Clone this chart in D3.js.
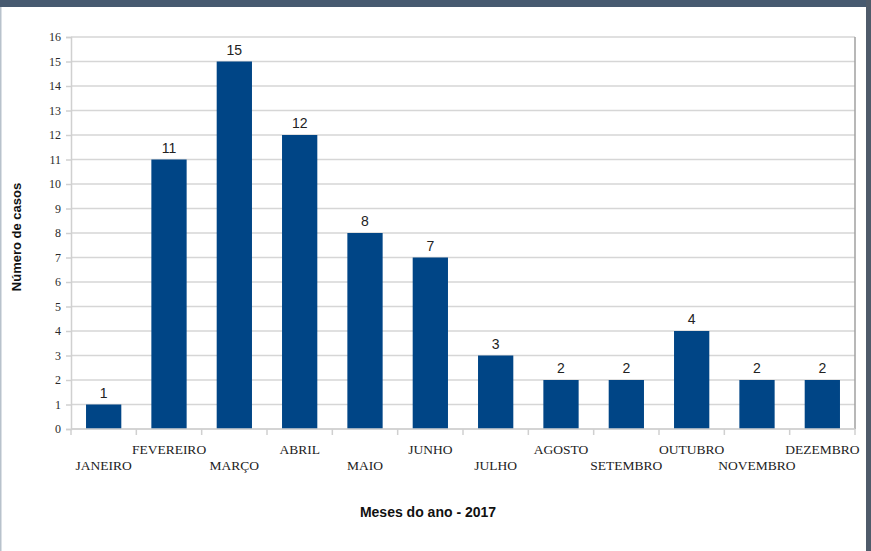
<!DOCTYPE html>
<html>
<head>
<meta charset="utf-8">
<script src="https://cdn.jsdelivr.net/npm/d3@7"></script>
<style>
  body { margin: 0; background: #fff; }
  svg { display: block; }
</style>
</head>
<body>
<div id="wrapper"></div>
<script>
const months = ["JANEIRO", "FEVEREIRO", "MARÇO", "ABRIL", "MAIO", "JUNHO",
  "JULHO", "AGOSTO", "SETEMBRO", "OUTUBRO", "NOVEMBRO", "DEZEMBRO"];
const cases = [1, 11, 15, 12, 8, 7, 3, 2, 2, 4, 2, 2];
const yTicks = d3.range(0, 17);

function drawBarChart() {
  const dataset = months.map((m, i) => ({ month: m, value: cases[i] }));
  const xAccessor = d => d.month;
  const yAccessor = d => d.value;

  let dimensions = {
    width: 871,
    height: 551,
    margin: { top: 37, right: 16, bottom: 122, left: 71 },
  };
  dimensions.boundedWidth = dimensions.width - dimensions.margin.left - dimensions.margin.right;
  dimensions.boundedHeight = dimensions.height - dimensions.margin.top - dimensions.margin.bottom;

  const wrapper = d3.select("#wrapper")
    .append("svg")
    .attr("width", dimensions.width)
    .attr("height", dimensions.height);

  // frame around the slide
  wrapper.append("rect")
    .attr("x", 0).attr("y", 0)
    .attr("width", dimensions.width).attr("height", 7)
    .attr("fill", "#475a70");
  wrapper.append("rect")
    .attr("x", 866).attr("y", 0)
    .attr("width", 5).attr("height", dimensions.height)
    .attr("fill", "#4f5b6a");
  wrapper.append("rect")
    .attr("x", 0).attr("y", 7)
    .attr("width", 1.5).attr("height", dimensions.height)
    .attr("fill", "#b8c2cc");

  const bounds = wrapper.append("g")
    .attr("transform", `translate(${dimensions.margin.left},${dimensions.margin.top})`);

  const xScale = d3.scaleBand()
    .domain(months)
    .range([0, dimensions.boundedWidth])
    .paddingInner(0.46)
    .paddingOuter(0.23);

  const yScale = d3.scaleLinear()
    .domain([0, 16])
    .range([dimensions.boundedHeight, 0]);

  // gridlines
  bounds.append("g")
    .selectAll("line")
    .data(yTicks)
    .join("line")
    .attr("x1", 0)
    .attr("x2", dimensions.boundedWidth)
    .attr("y1", d => yScale(d))
    .attr("y2", d => yScale(d))
    .attr("stroke", "#d6d6d6")
    .attr("stroke-width", 1.5);

  // right border of plot
  bounds.append("line")
    .attr("x1", dimensions.boundedWidth).attr("x2", dimensions.boundedWidth)
    .attr("y1", 0).attr("y2", dimensions.boundedHeight)
    .attr("stroke", "#a0a0a0")
    .attr("stroke-width", 1.5);

  // bars
  bounds.append("g")
    .selectAll("rect")
    .data(dataset)
    .join("rect")
    .attr("x", d => xScale(xAccessor(d)))
    .attr("y", d => yScale(yAccessor(d)))
    .attr("width", xScale.bandwidth())
    .attr("height", d => dimensions.boundedHeight - yScale(yAccessor(d)))
    .attr("fill", "#004586");

  // value labels
  bounds.append("g")
    .selectAll("text")
    .data(dataset)
    .join("text")
    .attr("x", d => xScale(xAccessor(d)) + xScale.bandwidth() / 2)
    .attr("y", d => yScale(yAccessor(d)) - 7)
    .attr("text-anchor", "middle")
    .style("font-family", "'Liberation Sans', Arial, sans-serif")
    .style("font-size", "14px")
    .attr("fill", "#222")
    .text(yAccessor);

  // y axis
  const yAxisGenerator = d3.axisLeft(yScale)
    .tickValues(yTicks)
    .tickSize(5)
    .tickPadding(5);
  const yAxis = bounds.append("g").call(yAxisGenerator);
  yAxis.select(".domain").attr("stroke", "#d0d0d0").attr("stroke-width", 1.5);
  yAxis.selectAll(".tick line").attr("stroke", "#d0d0d0").attr("stroke-width", 1.5);
  yAxis.selectAll(".tick text")
    .style("font-family", "'Liberation Serif', 'Times New Roman', serif")
    .style("font-size", "12px")
    .attr("fill", "#2a2a2a");

  // x axis: boundary ticks between categories
  const step = xScale.step();
  const boundaries = d3.range(0, months.length + 1).map(i => i * step);
  const xAxis = bounds.append("g")
    .attr("transform", `translate(0,${dimensions.boundedHeight})`);
  xAxis.append("line")
    .attr("x1", 0).attr("x2", dimensions.boundedWidth)
    .attr("y1", 0).attr("y2", 0)
    .attr("stroke", "#d0d0d0")
    .attr("stroke-width", 1.5);
  xAxis.selectAll(".bt")
    .data(boundaries)
    .join("line")
    .attr("class", "bt")
    .attr("x1", d => d).attr("x2", d => d)
    .attr("y1", 0).attr("y2", 6)
    .attr("stroke", "#d0d0d0")
    .attr("stroke-width", 1.5);
  xAxis.selectAll(".lbl")
    .data(months)
    .join("text")
    .attr("class", "lbl")
    .attr("x", d => xScale(d) + xScale.bandwidth() / 2)
    .attr("y", (d, i) => i % 2 === 0 ? 41 : 25)
    .attr("text-anchor", "middle")
    .style("font-family", "'Liberation Serif', 'Times New Roman', serif")
    .style("font-size", "13.5px")
    .attr("fill", "#222")
    .text(d => d);

  // axis titles
  wrapper.append("text")
    .attr("x", dimensions.margin.left + dimensions.boundedWidth / 2 - 35)
    .attr("y", 517)
    .attr("text-anchor", "middle")
    .style("font-family", "'Liberation Sans', Arial, sans-serif")
    .style("font-weight", "bold")
    .style("font-size", "14px")
    .attr("fill", "#111")
    .text("Meses do ano - 2017");

  wrapper.append("text")
    .attr("transform", `translate(21,${dimensions.margin.top + dimensions.boundedHeight / 2 + 4}) rotate(-90)`)
    .attr("text-anchor", "middle")
    .style("font-family", "'Liberation Sans', Arial, sans-serif")
    .style("font-weight", "bold")
    .style("font-size", "13px")
    .attr("fill", "#111")
    .text("Número de casos");
}

drawBarChart();
</script>
</body>
</html>
